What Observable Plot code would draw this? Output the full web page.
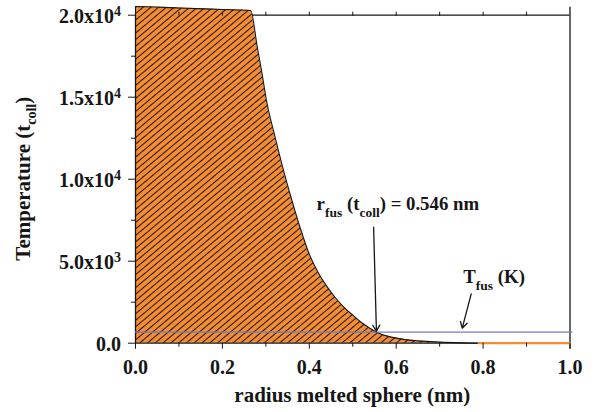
<!DOCTYPE html>
<html><head><meta charset="utf-8">
<script src="https://cdn.jsdelivr.net/npm/d3@7"></script>
<script src="https://cdn.jsdelivr.net/npm/@observablehq/plot@0.6"></script>
<style>body{margin:0;background:#fff} svg{display:block}</style>
</head><body><div id="chart"></div>
<script>
// ---- data ----
const radius      = [0, 0.1, 0.2, 0.265, 0.28, 0.294, 0.30, 0.32, 0.34, 0.36, 0.38, 0.40, 0.42, 0.44, 0.46, 0.48, 0.50, 0.52, 0.54, 0.56, 0.58, 0.60, 0.62, 0.65, 0.70, 0.75, 0.79];
const temperature = [20530, 20440, 20350, 20290, 18100, 16000, 15000, 12700, 10600, 8700, 6950, 5420, 4330, 3480, 2770, 2190, 1710, 1260, 900, 610, 430, 310, 220, 140, 65, 22, 0];
const tailRadius = [0.79, 1.0];
const tailTemperature = [0, 0];
const tFus = 670;
const rFus = 0.546;
const xTicks = [0, 0.2, 0.4, 0.6, 0.8, 1.0];
const xMinor = [0.1, 0.3, 0.5, 0.7, 0.9];
const xTop = [0.1, 0.2, 0.3, 0.4, 0.5, 0.6, 0.7, 0.8, 0.9];
const yTicks = [0, 5000, 10000, 15000, 20000];
const yTickMain = ["0.0", "5.0x10", "1.0x10", "1.5x10", "2.0x10"];
const yTickSup = ["", "3", "4", "4", "4"];
const yMinor = [2500, 7500, 12500, 17500];
const arrowX1 = [0.548, 0.7726];
const arrowY1 = [7070, 3010];
const arrowX2 = [0.5545, 0.752];
const arrowY2 = [730, 915];
const rLabelX = 0.418, rLabelY = 8090;
const tLabelX = 0.7556, tLabelY = 3620;

const curve = radius.map((r, i) => ({r, t: temperature[i]}));
const outline = [{r: 0, t: 0}, ...curve];
const tail = tailRadius.map((r, i) => ({r, t: tailTemperature[i]}));
const arrows = arrowX1.map((x1, i) => ({x1, y1: arrowY1[i], x2: arrowX2[i], y2: arrowY2[i]}));

const FONT = "'Liberation Serif', 'Times New Roman', serif";
const INK = "#161616";
const ORANGE = "#f48c34";

const chart = Plot.plot({
  width: 597, height: 412,
  marginLeft: 135, marginRight: 27.5, marginTop: 14.7, marginBottom: 69.3,
  x: {domain: [0, 1], label: null},
  y: {domain: [0, 20000], label: null},
  style: {fontFamily: FONT, fontWeight: "bold", fontSize: "20px", color: INK, background: "#fff", overflow: "visible"},
  marks: [
    Plot.ruleY([20000], {stroke: INK, strokeWidth: 1.2}),
    Plot.areaY(curve, {x: "r", y: "t", fill: "url(#hatch)", curve: "monotone-x"}),
    Plot.line(outline, {x: "r", y: "t", stroke: INK, strokeWidth: 1.1, curve: "monotone-x"}),
    Plot.ruleX([1], {stroke: INK, strokeWidth: 1.3, insetTop: -8, insetBottom: -6}),
    Plot.ruleX([0], {stroke: INK, strokeWidth: 1.2}),
    Plot.ruleY([0], {stroke: INK, strokeWidth: 1.2}),
    Plot.ruleY([tFus], {stroke: "#6d7fc2", strokeWidth: 1.2, insetRight: -3}),
    Plot.line(tail, {x: "r", y: "t", stroke: ORANGE, strokeWidth: 2.2}),
    Plot.arrow(arrows, {x1: "x1", y1: "y1", x2: "x2", y2: "y2", stroke: INK, strokeWidth: 1.3, headLength: 8}),
    Plot.axisX({ticks: xTicks, tickSize: 6, tickPadding: 11, tickFormat: d3.format(".1f"), fontSize: 20, fontWeight: "bold", label: null, stroke: INK}),
    Plot.axisX({ticks: xMinor, tickSize: 4, tickFormat: () => "", label: null}),
    Plot.axisX({anchor: "top", ticks: xTop, tickSize: 4, tickFormat: () => "", label: null}),
    Plot.axisY({ticks: yTicks, tickSize: 7, tickFormat: () => "", label: null}),
    Plot.axisY({ticks: yMinor, tickSize: 4, tickFormat: () => "", label: null})
  ]
});

const svg = d3.select(chart);
// hatch pattern
const defs = svg.insert("defs", ":first-child");
const pat = defs.append("pattern").attr("id", "hatch").attr("patternUnits", "userSpaceOnUse")
  .attr("width", 10).attr("height", 5).attr("patternTransform", "rotate(-40)");
pat.append("rect").attr("width", 10).attr("height", 5).attr("fill", ORANGE);
pat.append("line").attr("x1", 0).attr("x2", 10).attr("y1", 2.5).attr("y2", 2.5)
  .attr("stroke", "#111").attr("stroke-width", 0.95);

const xs = chart.scale("x"), ys = chart.scale("y");
const g = svg.append("g").attr("font-family", FONT).attr("font-weight", "bold")
  .attr("fill", INK).attr("text-anchor", "start");

function rich(sel, parts, size, small, shift) {
  let off = 0;
  parts.forEach(([s, kind]) => {
    const t = sel.append("tspan").text(s);
    let target = kind === "sub" ? shift : kind === "sup" ? -shift : 0;
    t.attr("dy", target - off).attr("font-size", kind === "main" ? size : small);
    off = target;
  });
}

// y tick labels
yTicks.forEach((v, i) => {
  const t = g.append("text").attr("x", xs.apply(0) - 14).attr("y", ys.apply(v) + 8)
    .attr("text-anchor", "end").attr("font-size", 20);
  const parts = [[yTickMain[i], "main"]];
  if (yTickSup[i]) parts.push([yTickSup[i], "sup"]);
  rich(t, parts, 20, 14, 7);
});

// axis titles
g.append("text").attr("x", (xs.apply(0) + xs.apply(1)) / 2).attr("y", 402)
  .attr("text-anchor", "middle").attr("font-size", 21).text("radius melted sphere (nm)");
const yl = g.append("text").attr("transform", `translate(30,${(ys.apply(0) + ys.apply(20000)) / 2}) rotate(-90)`)
  .attr("text-anchor", "middle").attr("font-size", 21);
rich(yl, [["Temperature (t", "main"], ["coll", "sub"], [")", "main"]], 21, 14, 6);

// annotations
const ra = g.append("text").attr("x", xs.apply(rLabelX)).attr("y", ys.apply(rLabelY))
  .attr("text-anchor", "start").attr("font-size", 18.8);
rich(ra, [["r", "main"], ["fus", "sub"], [" (t", "main"], ["coll", "sub"], [") = " + rFus + " nm", "main"]], 18.8, 13.5, 7);
const ta = g.append("text").attr("x", xs.apply(tLabelX)).attr("y", ys.apply(tLabelY))
  .attr("text-anchor", "start").attr("font-size", 18.8);
rich(ta, [["T", "main"], ["fus", "sub"], [" (K)", "main"]], 18.8, 13.5, 7);

document.getElementById("chart").appendChild(chart);
</script>
</body></html>
